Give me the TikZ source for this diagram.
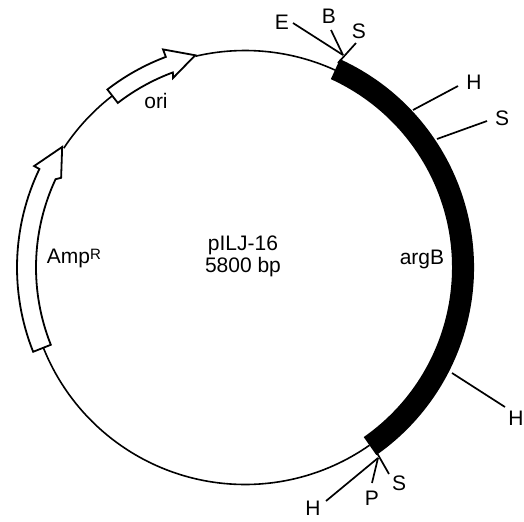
\documentclass[tikz,border=0pt]{standalone}
\usepackage{fontspec}
\setmainfont{Liberation Sans}
\usetikzlibrary{positioning}

\begin{document}
\begin{tikzpicture}[
  x=.5pt, y=.5pt,
  font=\fontsize{10.5}{11}\selectfont,
  backbone/.style={draw, line width=.8pt},
  genearrow/.style={draw, fill=white, line width=.9pt, line join=miter},
  sitelabel/.style={inner sep=0pt, align=center},
  siteline/.style={draw, line width=.85pt}
]
\useasboundingbox (-245,-253.5) rectangle (279,267.5);
% backbone of the plasmid
\draw[backbone] (65.5:217) arc[start angle=65.5, end angle=103.2, radius=217];
\draw[backbone] (127.7:217) arc[start angle=127.7, end angle=146.6, radius=217];
\draw[backbone] (201.7:217) arc[start angle=201.7, end angle=305, radius=217];
% genes
\fill (65.5:229) arc[start angle=65.5, end angle=-55, radius=229]
  -- (-55:207) arc[start angle=-55, end angle=65.5, radius=207] -- cycle;
\draw[genearrow] (201.7:228) arc[start angle=201.7, end angle=154.4, radius=228]
  -- (154.3:234) -- (146.6:219) -- (154:204.6) -- (155:209)
  arc[start angle=155, end angle=201.7, radius=209] -- cycle;
\draw[genearrow] (127.7:225) arc[start angle=127.7, end angle=110.6, radius=225]
  -- (110.6:233) -- (103.2:218) -- (110.8:202.7) -- (110.3:208)
  arc[start angle=110.3, end angle=127.7, radius=208] -- cycle;
% gene labels
\node[sitelabel] (ori) at (-89,166.5) {ori};
\node[sitelabel] (amp) at (-171,9.5) {Amp\raisebox{1.6pt}{\fontsize{7.5}{8}\selectfont R}};
\node[sitelabel] (argb) at (177,8.5) {argB};
\node[sitelabel] (title) at (-2,11.5) {pILJ-16\\5800 bp};
% restriction sites, top
\coordinate (topjoin) at (98,212.5);
\coordinate (topbase) at (93,204.5);
\node[sitelabel] (e1) at (37,245.5) {E};
\node[sitelabel] (b1) at (84,251.5) {B};
\node[sitelabel] (s1) at (114,236.5) {S};
\coordinate (e1end) at (48,244.5);
\coordinate (b1end) at (86,237.5);
\coordinate (s1end) at (111,224.5);
\draw[siteline] (e1end) -- (topjoin);
\draw[siteline] (b1end) -- (topjoin);
\draw[siteline] (s1end) -- (topbase);
% sites inside argB
\node[sitelabel] (h2) at (229,185.5) {H};
\node[sitelabel] (s2) at (257,149.5) {S};
\node[sitelabel] (h3) at (271,-150.5) {H};
\coordinate (h2end) at (213,181.5);
\coordinate (s2end) at (242,146.5);
\coordinate (h3end) at (260,-139.5);
\coordinate (h2base) at (168,157.5);
\coordinate (s2base) at (192,128.5);
\coordinate (h3base) at (207,-105.5);
\draw[siteline] (h2end) -- (h2base);
\draw[siteline] (s2end) -- (s2base);
\draw[siteline] (h3end) -- (h3base);
% restriction sites, bottom
\coordinate (botjoin) at (133,-190.5);
\coordinate (botbase) at (132,-185.5);
\node[sitelabel] (h4) at (68,-240.5) {H};
\node[sitelabel] (p4) at (127,-230.5) {P};
\node[sitelabel] (s4) at (154,-215.5) {S};
\coordinate (h4end) at (81,-233.5);
\coordinate (p4end) at (127,-215.5);
\coordinate (s4end) at (144,-206.5);
\draw[siteline] (h4end) -- (botjoin);
\draw[siteline] (p4end) -- (botjoin);
\draw[siteline] (s4end) -- (botbase);
\end{tikzpicture}
\end{document}
